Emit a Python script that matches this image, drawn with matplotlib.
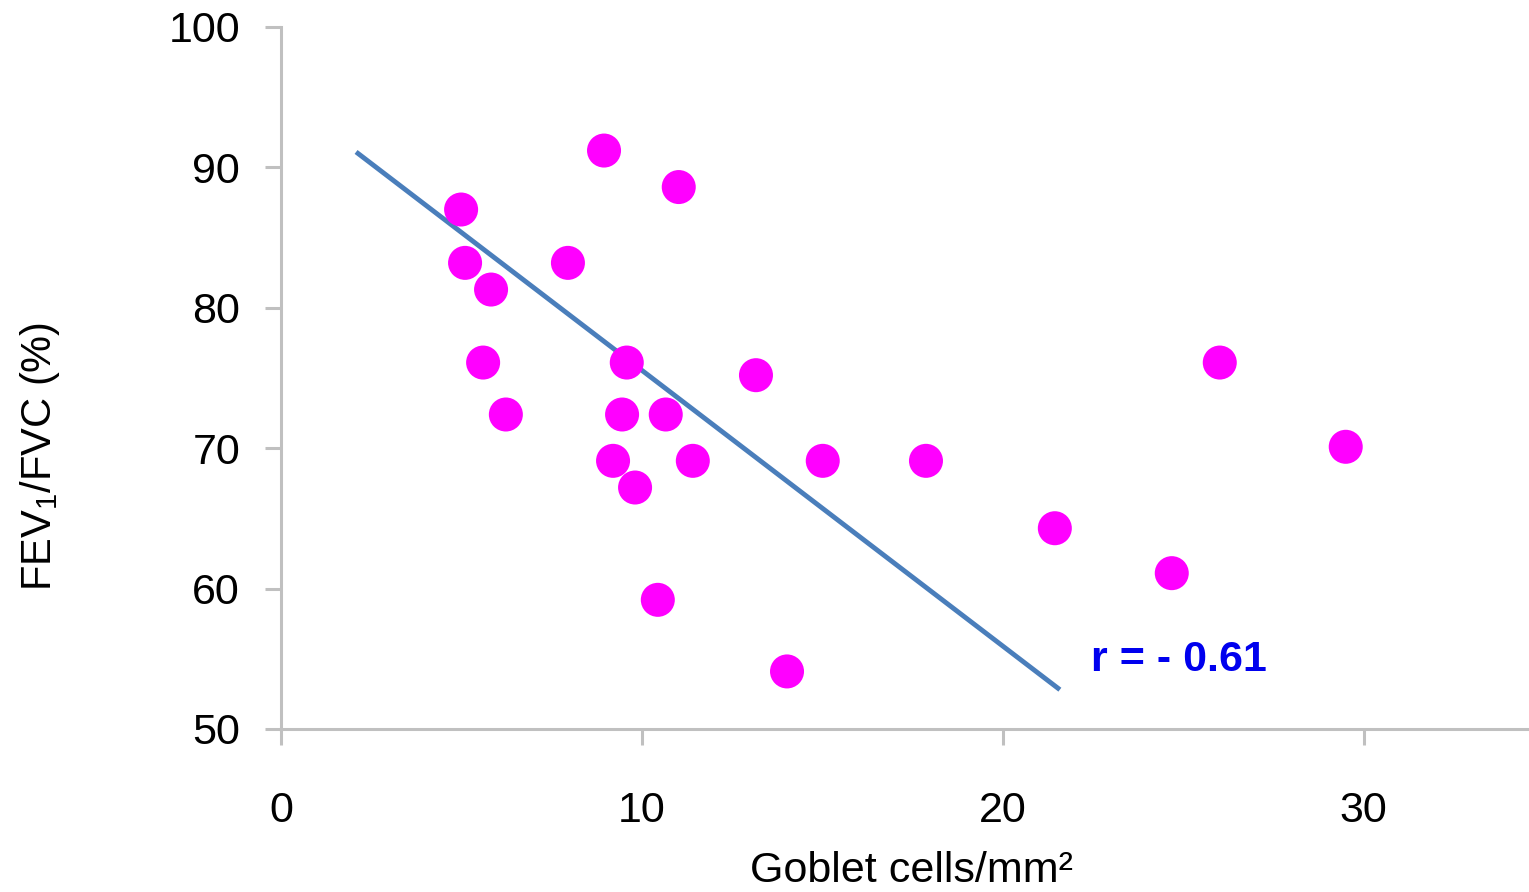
import matplotlib
matplotlib.use("Agg")
import matplotlib.pyplot as plt
from matplotlib import font_manager

names = {f.name for f in font_manager.fontManager.ttflist}
main_font = 'Liberation Sans Narrow' if 'Liberation Sans Narrow' in names else 'Liberation Sans'
plt.rcParams['font.family'] = [main_font, 'DejaVu Sans']
plt.rcParams['mathtext.fontset'] = 'custom'
plt.rcParams['mathtext.rm'] = main_font
plt.rcParams['mathtext.it'] = main_font

# Data
goblet = [8.95, 11.02, 4.99, 5.10, 7.95, 5.82, 5.60, 9.58, 13.16, 26.01,
          6.23, 9.45, 10.66, 29.50, 9.20, 11.41, 15.01, 17.87, 9.81, 21.44,
          24.68, 10.44, 14.02]
fev_fvc = [91.2, 88.6, 87.0, 83.2, 83.2, 81.3, 76.1, 76.1, 75.2, 76.1,
           72.4, 72.4, 72.4, 70.1, 69.1, 69.1, 69.1, 69.1, 67.2, 64.3,
           61.1, 59.2, 54.1]
fit_x = [2.08, 21.58]
fit_y = [91.1, 52.8]
r_text = "r = - 0.61"
x_ticks = [0, 10, 20, 30]
y_ticks = [50, 60, 70, 80, 90, 100]

fig = plt.figure(figsize=(15.29, 8.92), dpi=100)
ax = fig.add_axes([281/1529, 1-729/892, (1528-281)/1529, (729-27)/892])

ax.plot(fit_x, fit_y, color='#4a7ebb', lw=3.5, solid_capstyle='butt', zorder=2)
ax.scatter(goblet, fev_fvc, s=600, color='#ff00ff', edgecolors='none', zorder=3)

ax.text(22.45, 54.9, r_text, color='#0000ee', fontsize=31, fontweight='bold',
        family=['Liberation Sans', 'DejaVu Sans'], va='center', ha='left')

ax.set_xlim(0, 34.55)
ax.set_ylim(50, 100)
ax.set_xticks(x_ticks)
ax.set_yticks(y_ticks)
for s in ['top', 'right']:
    ax.spines[s].set_visible(False)
for s in ['left', 'bottom']:
    ax.spines[s].set_color('#c0c0c0')
    ax.spines[s].set_linewidth(2.2)
ax.tick_params(axis='both', direction='out', length=11.5, width=2.2, color='#c0c0c0',
               labelsize=31)
ax.tick_params(axis='y', pad=18)
ax.tick_params(axis='x', pad=33)

fig.text(912/1529, 1-871/892, 'Goblet cells/mm²', fontsize=31, ha='center', va='center')
fig.text(40/1529, 1-456/892, 'FEV$_1$/FVC (%)', fontsize=30, ha='center', va='center',
         rotation=90)

fig.savefig('out.png', dpi=100)
